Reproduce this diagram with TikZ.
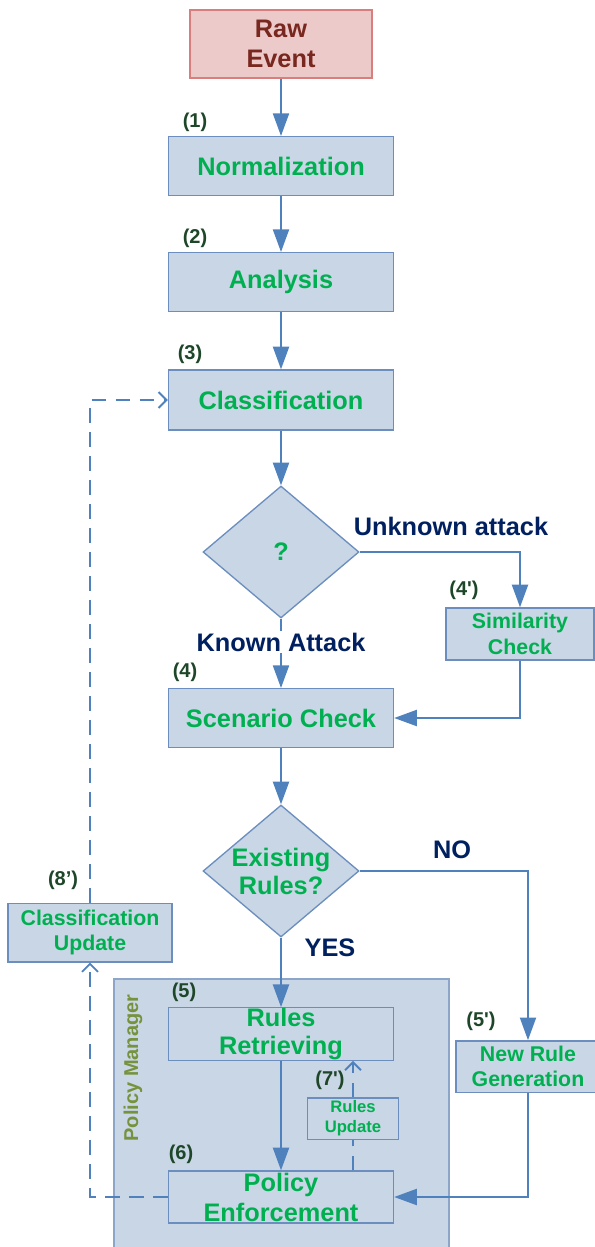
\documentclass[tikz,border=0pt]{standalone}
\usepackage{fontspec}
\setmainfont{Liberation Sans}
\usetikzlibrary{shapes.geometric,arrows.meta}

\definecolor{boxfill}{RGB}{200,214,230}
\definecolor{boxdraw}{RGB}{108,142,191}
\definecolor{flowblue}{RGB}{79,129,189}
\definecolor{txtgreen}{RGB}{0,176,80}
\definecolor{numgreen}{RGB}{30,70,40}
\definecolor{navy}{RGB}{0,32,96}
\definecolor{rawfill}{RGB}{236,202,202}
\definecolor{rawdraw}{RGB}{217,125,125}
\definecolor{rawtext}{RGB}{120,40,30}
\definecolor{pmdraw}{RGB}{140,165,200}
\definecolor{olive}{RGB}{118,146,60}

\begin{document}
\begin{tikzpicture}[x=0.75pt,y=0.75pt,yscale=-1,xscale=1,
  stepbox/.style={draw=boxdraw, fill=boxfill, line width=1pt, text=txtgreen, inner sep=0pt, align=center,
    font=\bfseries\fontsize{19}{22}\selectfont, minimum width=168.75pt, minimum height=44pt},
  smallbox/.style={stepbox, font=\bfseries\fontsize{16}{19}\selectfont},
  decision/.style={diamond, draw=boxdraw, fill=boxfill, line width=1pt, inner sep=0pt,
    minimum width=117pt, minimum height=99pt},
  dtext/.style={text=txtgreen, inner sep=0pt, align=center, font=\bfseries\fontsize{19}{21}\selectfont},
  num/.style={text=numgreen, inner sep=0pt, font=\bfseries\fontsize{15}{16}\selectfont},
  answer/.style={text=navy, inner sep=0pt, font=\bfseries\fontsize{19}{22}\selectfont},
  flow/.style={draw=flowblue, line width=1.6pt, -{Triangle[length=17pt,width=12pt]}},
  back/.style={draw=flowblue, line width=1.4pt, dash pattern=on 11pt off 7pt, -{Straight Barb[length=6pt,width=12pt]}}]
\useasboundingbox (0,0) rectangle (594,1247);

% Policy Manager frame
\node [draw=pmdraw, fill=boxfill, line width=1pt, minimum width=251.25pt, minimum height=204pt] (pm) at (281.5,1115) {};
\node [rotate=90, text=olive, inner sep=0pt, font=\bfseries\fontsize{15}{18}\selectfont] (pmtxt) at (133,1068) {Policy Manager};

% Boxes
\node [stepbox, draw=rawdraw, fill=rawfill, text=rawtext, minimum width=136.5pt, minimum height=51pt] (raw) at (281,44) {Raw\\Event};
\node [stepbox] (norm) at (281,166) {Normalization};
\node [stepbox] (ana) at (281,282) {Analysis};
\node [stepbox, minimum height=45pt] (cls) at (281,400) {Classification};
\node [decision] (q) at (281,552) {};
\node [dtext] (qtxt) at (281,552) {?};
\node [smallbox, minimum width=111pt, minimum height=39pt] (sim) at (520,634) {Similarity\\Check};
\node [stepbox] (scn) at (281,718) {Scenario Check};
\node [decision] (ex) at (281,871) {};
\node [dtext] (extxt) at (281,871) {Existing\\Rules?};
\node [smallbox, minimum width=123pt, minimum height=44pt] (cu) at (90,932.5) {Classification\\Update};
\node [stepbox, minimum height=39pt, font=\bfseries\fontsize{19}{21.5}\selectfont] (rr) at (281,1034) {Rules\\Retrieving};
\node [stepbox, minimum height=39pt, font=\bfseries\fontsize{19}{22.5}\selectfont] (pe) at (281,1197) {Policy\\Enforcement};
\node [smallbox, minimum width=68pt, minimum height=31pt, font=\bfseries\fontsize{12.5}{15}\selectfont] (ru) at (353,1118.5) {Rules\\Update};
\node [smallbox, minimum width=108pt, minimum height=38.5pt] (ngr) at (528,1066.5) {New Rule\\Generation};

% Connectors
\draw [flow] (raw) -- (norm);
\draw [flow] (norm) -- (ana);
\draw [flow] (ana) -- (cls);
\draw [flow] (cls) -- (q);
\draw [flow] (q.east) -| (sim.north);
\draw [flow] (q) -- (scn);
\draw [flow] (sim.south) |- (scn.east);
\draw [flow] (scn) -- (ex);
\draw [flow] (ex.east) -| (ngr.north);
\draw [flow] (ex) -- (rr);
\draw [flow] (rr) -- (pe);
\draw [flow] (ngr.south) |- (pe.east);
\draw [back, -] (pe.north -| ru) -- (ru);
\draw [back] (ru) -- (ru |- rr.south);
\draw [back] (pe.west) -| (cu.south);
\draw [back] (cu.north) |- (cls.west);

% Text Node
\node [answer] (unk) at (451,526) {Unknown attack};
\node [answer, fill=white, inner sep=1pt] (known) at (281,642) {Known Attack};
\node [answer] (no) at (452,850) {NO};
\node [answer] (yes) at (330,948) {YES};
\node [num] (n1) at (195,122) {(1)};
\node [num] (n2) at (195,238) {(2)};
\node [num] (n3) at (190,354) {(3)};
\node [num] (n4b) at (464,590) {(4\textquotesingle)};
\node [num] (n4) at (185,672) {(4)};
\node [num] (n8b) at (63,880) {(8’)};
\node [num] (n5) at (184,992) {(5)};
\node [num] (n5b) at (481,1021) {(5\textquotesingle)};
\node [num] (n7b) at (330,1080) {(7\textquotesingle)};
\node [num] (n6) at (181,1154) {(6)};

\end{tikzpicture}
\end{document}
